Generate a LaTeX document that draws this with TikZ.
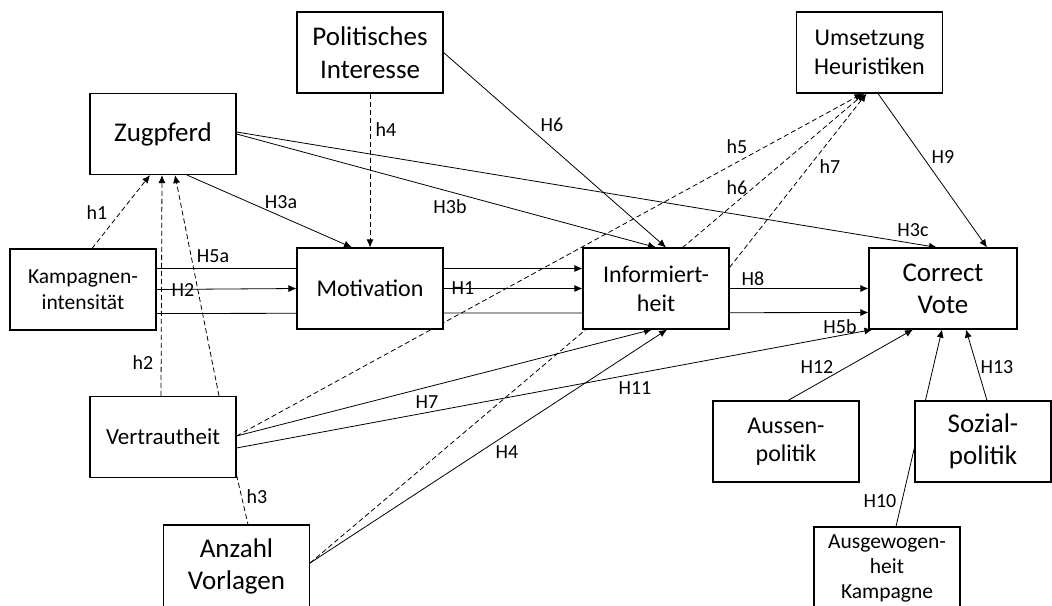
\documentclass[tikz,border=0pt]{standalone}
\usepackage{fontspec}
\setmainfont{Carlito}
\usetikzlibrary{arrows.meta}
\pgfdeclarelayer{back}
\pgfsetlayers{back,main}
\newcommand\sz[2]{\fontsize{#1}{#2}\selectfont}
\tikzset{
  box/.style={draw, line width=1.1pt, fill=white, align=center, inner sep=2pt,
    minimum width=146pt, minimum height=81pt},
  hyp/.style={line width=0.8pt, -{Latex[length=8pt,width=7pt]}},
  hypd/.style={hyp, dash pattern=on 5pt off 3pt},
  lab/.style={inner sep=0pt, font=\sz{20}{24}},
}

\begin{document}
\begin{tikzpicture}[x=1pt,y=-1pt]
  \useasboundingbox (0,0) rectangle (1052,605);
  \clip (0,0) rectangle (1052,605);

  % Boxes
  \node[box, font=\sz{27}{33}] (zug) at (163,134) {Zugpferd};
  \node[box, font=\sz{27}{33}] (polint) at (370,52.5) {Politisches\\Interesse};
  \node[box, font=\sz{24}{29}] (ums) at (869.5,52.5) {Umsetzung\\Heuristiken};
  \node[box, font=\sz{21.5}{26}] (kamp) at (83,289.5) {Kampagnen-\\intensität};
  \node[box, font=\sz{24}{29}] (mot) at (370,288.5) {Motivation};
  \node[box, font=\sz{24}{29}] (info) at (656,288.5) {Informiert-\\heit};
  \node[box, font=\sz{27}{32}, minimum width=148pt] (cv) at (943,288.5) {Correct\\Vote};
  \node[box, font=\sz{23}{28}] (vert) at (163,437) {Vertrautheit};
  \node[box, font=\sz{27}{32}, minimum height=82pt] (anz) at (236.5,566) {Anzahl\\Vorlagen};
  \node[box, font=\sz{24}{28}] (aus) at (786,441.5) {Aussen-\\politik};
  \node[box, font=\sz{27}{32}, minimum width=136pt] (soz) at (983,441.5) {Sozial-\\politik};
  \node[box, font=\sz{21.5}{25}, minimum height=82pt] (ausg) at (887,568) {Ausgewogen-\\heit\\Kampagne};

  % Connectors (behind the boxes)
  \begin{pgfonlayer}{back}
    % solid paths
    \draw[hyp] ([xshift=24pt]zug.south) -- ([xshift=-18pt]mot.north);
    \draw[hyp] (zug.east) -- (info.north);
    \draw[hyp] ([yshift=2pt]zug.east) -- ([xshift=-6pt]cv.north);
    \draw[hyp] (polint.east) -- ([xshift=10pt]info.north);
    \draw[hyp] (kamp.east) -- (mot.west);
    \draw[hyp] ([yshift=21pt]kamp.east) -- ([yshift=20pt]info.west);
    \draw[hyp] ([yshift=-24pt]kamp.east) -- ([yshift=-24pt]cv.west);
    \draw[hyp] (mot.east) -- (info.west);
    \draw[hyp] (info.east) -- (cv.west);
    \draw[hyp] ([yshift=1pt]vert.east) -- ([xshift=-4pt]info.south);
    \draw[hyp] ([yshift=-11pt]vert.east) -- ([xshift=4pt]cv.south west);
    \draw[hyp] ([yshift=3pt]anz.east) -- ([xshift=11pt]info.south);
    \draw[hyp] ([xshift=8.5pt]ums.south) -- ([xshift=44pt]cv.north);
    \draw[hyp] ([xshift=2pt]aus.north) -- ([xshift=-30pt]cv.south);
    \draw[hyp] ([xshift=4pt]soz.north) -- ([xshift=23pt]cv.south);
    \draw[hyp] ([xshift=9pt]ausg.north) -- ([xshift=-1pt]cv.south);

    % dashed paths
    \draw[hypd] ([xshift=9pt]kamp.north) -- ([xshift=-13pt]zug.south);
    \draw[hypd] ([xshift=-2pt]vert.north) -- ([xshift=-1pt]zug.south);
    \draw[hypd] ([xshift=56pt]vert.north) -- ([xshift=12pt]zug.south);
    \draw[hyp, -, dash pattern=on 5pt off 3pt] ([yshift=3pt]vert.south east) -- ([xshift=11.5pt]anz.north);
    \draw[hypd] (polint.south) -- (mot.north);
    \draw[hypd] ([yshift=1pt]vert.east) -- ([xshift=-7pt]ums.south);
    \draw[hypd] ([yshift=3pt]anz.east) -- ([xshift=-5pt]ums.south);
    \draw[hypd] ([yshift=21pt]info.east) -- ([xshift=-3pt]ums.south);
  \end{pgfonlayer}

  % Labels
  \node[lab] (lh1) at (97,213) {h1};
  \node[lab] (lh2) at (143,363) {h2};
  \node[lab] (lh3) at (257,497) {h3};
  \node[lab] (lh4) at (386,130) {h4};
  \node[lab] (lh5) at (737,147) {h5};
  \node[lab] (lh6) at (737,188) {h6};
  \node[lab] (lh7) at (830,167) {h7};
  \node[lab] (lH1) at (463,288) {H1};
  \node[lab] (lH2) at (183,290) {H2};
  \node[lab] (lH3a) at (281,202) {H3a};
  \node[lab] (lH3b) at (450,207) {H3b};
  \node[lab] (lH3c) at (913,230) {H3c};
  \node[lab] (lH4) at (507,452) {H4};
  \node[lab] (lH5a) at (213,256) {H5a};
  \node[lab] (lH5b) at (840,327) {H5b};
  \node[lab] (lH6) at (552,125) {H6};
  \node[lab] (lH7) at (427,402) {H7};
  \node[lab] (lH8) at (753,279) {H8};
  \node[lab] (lH9) at (943,157) {H9};
  \node[lab] (lH10) at (880,501) {H10};
  \node[lab] (lH11) at (635,388) {H11};
  \node[lab] (lH12) at (817,367) {H12};
  \node[lab] (lH13) at (997,367) {H13};
\end{tikzpicture}
\end{document}
